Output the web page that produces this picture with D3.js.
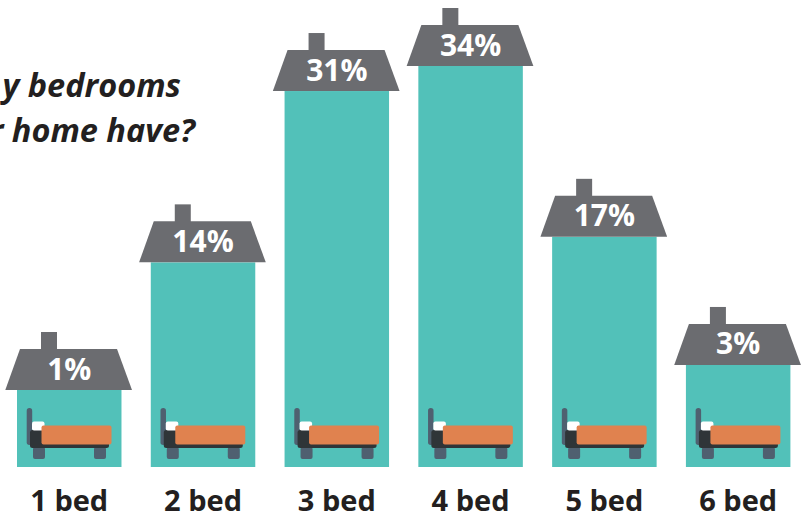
<!DOCTYPE html>
<html><head><meta charset="utf-8">
<style>html,body{margin:0;padding:0;background:#fff;overflow:hidden}svg{display:block}</style>
<script src="https://cdn.jsdelivr.net/npm/d3@7"></script></head>
<body><svg id="c" width="808" height="515"></svg>
<script>
const categories = ["1 bed","2 bed","3 bed","4 bed","5 bed","6 bed"];
const percentLabels = ["1%","14%","31%","34%","17%","3%"];
const barValues = [1,14,31.45,34,16.6,3.55];
const titleLines = ["y bedrooms","r home have?"];

const FONT = "'Open Sans',sans-serif";
const TEAL="#52c1b9", ROOF="#6b6c70", TEXT="#231f20";
const svg=d3.select("#c");
const x=d3.scaleBand().domain(categories).range([17,790.4]).paddingInner(0.219).paddingOuter(0);
const y=d3.scaleLinear().domain([1,34]).range([390,66]);
const base=467;

svg.append("g").selectAll("text").data(titleLines).join("text")
  .attr("x",(d,i)=>i?195:181).attr("y",(d,i)=>i?142:97)
  .attr("text-anchor","end").attr("font-family",FONT).attr("font-weight",700).attr("font-style","italic")
  .attr("font-size",32.5).attr("fill",TEXT).text(d=>d);

const g=svg.append("g").selectAll("g").data(categories).join("g")
  .attr("transform",d=>`translate(${x(d)},0)`);
g.append("rect").attr("y",(d,i)=>y(barValues[i])).attr("width",x.bandwidth())
  .attr("height",(d,i)=>base-y(barValues[i])).attr("fill",TEAL);
// chimney + roof
g.append("rect").attr("x",24).attr("width",16).attr("y",(d,i)=>y(barValues[i])-58).attr("height",20).attr("fill",ROOF);
g.append("path").attr("fill",ROOF).attr("d",(d,i)=>{const t=y(barValues[i]);
  return d3.line()([[-11.7,t],[115,t],[100,t-41],[3,t-41]])+"Z";});
g.append("text").attr("x",x.bandwidth()/2).attr("y",(d,i)=>y(barValues[i])-10.5)
  .attr("text-anchor","middle").attr("font-family",FONT).attr("font-weight",700).attr("font-size",30)
  .attr("fill","#fff").text((d,i)=>percentLabels[i]);
// bed
g.append("rect").attr("x",9.7).attr("y",408).attr("width",5.5).attr("height",37).attr("rx",2.7).attr("fill","#4f6070");
g.append("rect").attr("x",16).attr("y",447).attr("width",12).attr("height",12).attr("rx",2).attr("fill","#4f6070");
g.append("rect").attr("x",77).attr("y",447).attr("width",12).attr("height",12).attr("rx",2).attr("fill","#4f6070");
g.append("rect").attr("x",13).attr("y",430).attr("width",79).attr("height",18).attr("rx",2.5).attr("fill","#2f3538");
g.append("rect").attr("x",15).attr("y",421.5).attr("width",12.5).attr("height",9).attr("rx",2).attr("fill","#fff");
g.append("rect").attr("x",24.5).attr("y",425.5).attr("width",70).attr("height",19).attr("rx",2).attr("fill","#e0824f");
// category labels
g.append("text").attr("x",x.bandwidth()/2).attr("y",510.5).attr("text-anchor","middle")
  .attr("font-family",FONT).attr("font-weight",700).attr("font-size",29).attr("fill",TEXT).text(d=>d);
</script></body></html>
